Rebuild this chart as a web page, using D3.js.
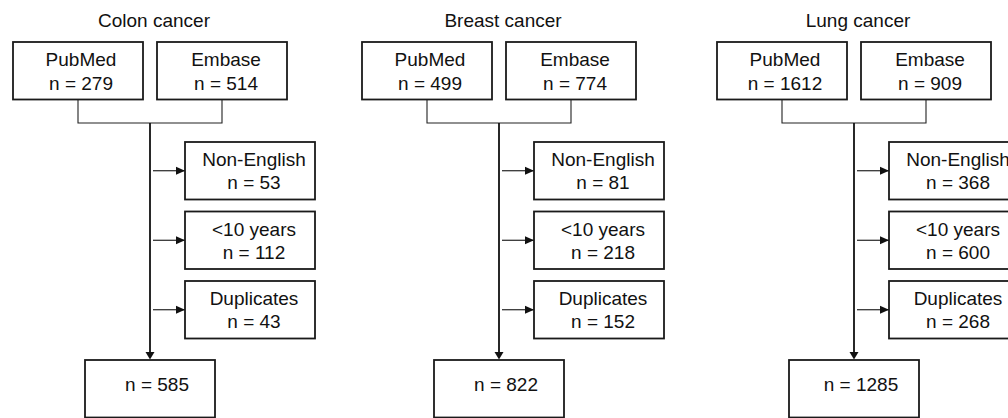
<!DOCTYPE html>
<html>
<head>
<meta charset="utf-8">
<script src="https://cdn.jsdelivr.net/npm/d3@7"></script>
<style>
  html, body { margin: 0; padding: 0; background: #fff; }
  svg { display: block; font-family: "Liberation Sans", Arial, sans-serif; }
  .box { fill: #fff; stroke: #1a1a1a; stroke-width: 1.8; }
  .join { fill: none; stroke: #222; stroke-width: 1.1; }
  .main { stroke: #111; stroke-width: 1.8; }
  .arrow { stroke: #111; stroke-width: 1.1; }
  text { fill: #111; font-size: 19px; }
</style>
</head>
<body>
<div id="chart"></div>
<script>
// flow chart values, one entry per cancer type
const panels = ['Colon cancer', 'Breast cancer', 'Lung cancer'];
const pubmedN = [279, 499, 1612];
const embaseN = [514, 774, 909];
const exclusions = ['Non-English', '<10 years', 'Duplicates'];
const nonEnglishN = [53, 81, 368];
const under10N = [112, 218, 600];
const duplicatesN = [43, 152, 268];
const finalN = [585, 822, 1285];

const W = 1008, H = 418;
const BW = 130, BH = 57.5;

const svg = d3.select('#chart').append('svg')
  .attr('width', W).attr('height', H);

const defs = svg.append('defs');
defs.append('marker')
  .attr('id', 'head-h')
  .attr('markerUnits', 'userSpaceOnUse')
  .attr('viewBox', '0 0 9 9')
  .attr('refX', 9).attr('refY', 4.5)
  .attr('markerWidth', 9).attr('markerHeight', 9)
  .attr('orient', 'auto')
  .append('path').attr('d', 'M0,0.5L9,4.5L0,8.5Z').attr('fill', '#111');

// centre line x of each panel (panels are not quite evenly spaced)
const x = d3.scaleOrdinal().domain(panels).range([150, 499, 854]);
// rows of the exclusion boxes
const yEx = d3.scalePoint().domain(exclusions).range([142, 281]);
const topY = 42, joinY = 123, finalY = 360;

const exclusionN = [nonEnglishN, under10N, duplicatesN];

function box(g, x0, y0, lines, dx, baselines) {
  g.append('rect').attr('class', 'box')
    .attr('x', x0).attr('y', y0).attr('width', BW).attr('height', BH);
  lines.forEach((t, i) => {
    g.append('text')
      .attr('x', x0 + BW / 2 + dx)
      .attr('y', y0 + baselines[i])
      .attr('text-anchor', 'middle')
      .text(t);
  });
}

panels.forEach((p, i) => {
  const cx = x(p);
  const g = svg.append('g');

  // title
  g.append('text')
    .attr('x', cx + 4).attr('y', 27)
    .attr('text-anchor', 'middle')
    .text(p);

  const leftX = cx - 7 - BW, rightX = cx + 7;

  // source boxes
  box(g, leftX, topY, ['PubMed', 'n = ' + pubmedN[i]], 3, [24, 48]);
  box(g, rightX, topY, ['Embase', 'n = ' + embaseN[i]], 4, [24, 48]);

  // bracket joining the two sources
  g.append('path').attr('class', 'join')
    .attr('d', `M${leftX + BW / 2},${topY + BH}V${joinY}H${rightX + BW / 2}V${topY + BH}`);

  // main trunk down to the final box
  g.append('line').attr('class', 'main')
    .attr('x1', cx).attr('x2', cx)
    .attr('y1', joinY).attr('y2', finalY - 8);
  g.append('path')
    .attr('d', `M${cx - 4.5},${finalY - 8}L${cx + 4.5},${finalY - 8}L${cx},${finalY - 0.5}Z`)
    .attr('fill', '#111');

  // exclusion boxes with arrows
  exclusions.forEach((e, j) => {
    const y0 = yEx(e);
    g.append('line').attr('class', 'arrow')
      .attr('x1', cx + 3).attr('x2', cx + 35)
      .attr('y1', y0 + BH / 2).attr('y2', y0 + BH / 2)
      .attr('marker-end', 'url(#head-h)');
    box(g, cx + 35, y0, [e, 'n = ' + exclusionN[j][i]], 4, [24, 47]);
  });

  // final count
  box(g, cx - BW / 2, finalY, ['n = ' + finalN[i]], 7, [31]);
});
</script>
</body>
</html>
